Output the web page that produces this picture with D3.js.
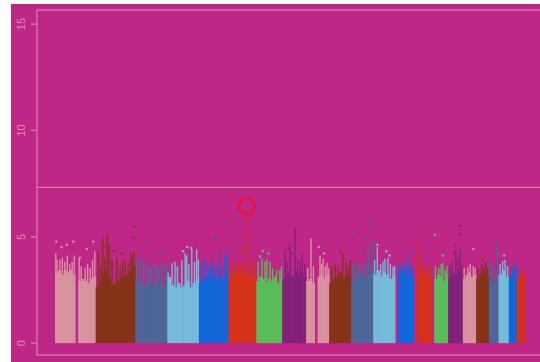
<!DOCTYPE html>
<html>
<head>
<meta charset="utf-8">
<script src="https://cdn.jsdelivr.net/npm/d3@7"></script>
<style>
  html, body { margin: 0; padding: 0; background: #ffffff; }
  svg { display: block; }
</style>
</head>
<body>
<svg id="chart" width="540" height="362"></svg>
<script>
// ---------- data ----------
const chromosomes = ["1","2","3","4","5","6","7","8","9","10","11","12","13","14","15","16","17","18","19","20","21","22"];
const chrLengthMb = [249.25, 243.2, 198.0, 191.15, 180.9, 171.1, 159.1, 146.4, 141.2, 135.5, 135.0, 133.85, 115.2, 107.3, 102.5, 90.35, 81.2, 78.1, 59.1, 63.0, 48.1, 51.3];
const chrColors = ["#d8939f", "#853418", "#4d6699", "#74bcd9", "#1167d9", "#d5331a", "#5bbd5a", "#84227b"];
const yTicks = [0, 5, 10, 15];
const threshold = 7.3;

// dense band: top of the solid mass of points, in equal bins along each chromosome (-log10 p)
const baseLevels = [
  [3.3, 3.4, 3.2, 3.4, 3.3, 3.4, 3.2, null, 2.9, 3.0, 2.9, 2.8, 3.0, 3.1],
  [2.6, 2.8, 3.2, 3.4, 3.0, 2.7, 2.8, 2.9, 3.1, 3.0, 3.2, 3.4, 3.6],
  [3.0, 2.8, 2.6, 2.7, 2.9, 2.6, 2.8, 2.7, 2.9, 2.6, 2.8],
  [3.1, 2.7, 2.6, 2.8, 2.6, 2.7, 2.9, 2.6, 2.8, 3.0],
  [2.8, 3.0, 3.1, 3.3, 3.0, 3.2, 2.9, 3.1, 3.0, 3.3],
  [3.0, 3.3, 3.4, 3.2, 3.5, 3.3, 3.1, 3.2, 3.0],
  [2.9, 3.1, 3.0, 2.8, 3.0, 2.9, 3.1, 2.8, 3.0],
  [3.0, 3.2, 3.3, 3.1, 3.4, 3.2, 3.3, 3.1],
  [2.9, 3.0, 2.8, null, 3.1, 3.2, 3.0, 3.2],
  [2.8, 3.0, 3.1, 3.3, 3.0, 3.2, 3.0],
  [2.9, 3.2, 3.1, 3.3, 3.0, 3.2, 3.4],
  [3.2, 3.4, 3.1, 3.3, 3.2, 3.0, 3.1],
  [null, 3.3, 3.5, 3.2, 3.4, 3.1],
  [null, 3.4, 3.2, 3.3, 3.1, 3.2],
  [null, 3.0, 3.2, 3.1, 2.9, 3.2],
  [3.1, 3.3, 3.2, 3.4, 3.2],
  [3.0, 3.2, 3.3, 3.1, 3.2],
  [3.0, 3.2, 3.3, 3.1],
  [3.0, 2.8, 2.9],
  [3.2, 3.4, 3.1],
  [3.1, 3.3, 3.4],
  [3.0, 3.1, 3.2]
];

// thin columns of points rising above the band: [chromosome, position Mb, -log10 p]
const spikes = [
  [1,5,4.2],[1,12,3.9],[1,30,3.9],[1,45,4.0],[1,60,3.8],[1,75,4.1],[1,90,3.7],[1,105,3.8],[1,118,4.1],[1,148,4.0],[1,160,3.6],[1,185,3.5],[1,200,3.7],[1,215,3.5],[1,230,3.9],[1,244,4.3],
  [2,16,4.3],[2,30,3.6],[2,42,4.9],[2,55,4.0],[2,71,5.1],[2,83,4.6],[2,100,3.9],[2,129,4.0],[2,150,3.6],[2,165,3.8],[2,180,3.9],[2,200,3.8],[2,215,4.2],[2,226,4.1],[2,236,4.3],
  [3,10,4.0],[3,29,3.95],[3,49,3.9],[3,70,3.8],[3,85,3.6],[3,100,3.55],[3,115,3.7],[3,131,3.7],[3,147,3.5],[3,162,3.85],[3,182,3.6],[3,195,3.8],
  [4,3,3.3],[4,27,3.73],[4,45,3.8],[4,60,3.6],[4,87,3.87],[4,107,4.2],[4,117,4.1],[4,130,3.7],[4,148,4.4],[4,165,3.8],[4,178,4.4],[4,188,3.9],
  [5,18,3.8],[5,38,3.95],[5,58,3.55],[5,70,3.7],[5,83,3.85],[5,99,3.5],[5,120,3.95],[5,140,3.6],[5,160,4.1],[5,173,4.1],
  [6,10,3.6],[6,31,3.96],[6,51,3.8],[6,72,3.9],[6,92,3.8],[6,113,4.9],[6,133,3.7],[6,153,4.0],[6,165,3.6],
  [7,12,3.8],[7,35,3.96],[7,53,3.8],[7,65,3.9],[7,84,3.8],[7,100,3.5],[7,125,3.4],[7,145,3.4],[7,155,3.6],
  [8,17,4.4],[8,30,3.8],[8,48,4.6],[8,78,5.38],[8,95,3.9],[8,110,3.8],[8,122,4.2],[8,138,3.7],
  [9,10,3.5],[9,30,4.9],[9,45,3.6],[9,85,4.1],[9,95,3.7],[9,104,3.95],[9,118,3.6],[9,128,3.75],[9,138,3.5],
  [10,15,3.6],[10,36,3.7],[10,55,3.5],[10,83,4.2],[10,104,3.75],[10,120,3.6],[10,130,3.9],
  [11,10,3.7],[11,23,3.8],[11,38,3.6],[11,53,3.7],[11,75,3.6],[11,90,3.9],[11,105,4.6],[11,118,3.8],[11,131,4.8],
  [12,8,3.9],[12,25,4.5],[12,45,3.7],[12,60,3.8],[12,72,3.95],[12,90,4.0],[12,105,3.7],[12,121,3.55],[12,130,3.6],
  [13,22,3.7],[13,40,3.8],[13,58,3.6],[13,73,4.0],[13,90,3.7],[13,105,3.6],
  [14,22,4.0],[14,27,4.6],[14,45,3.7],[14,60,3.6],[14,80,3.5],[14,95,3.7],
  [15,25,3.6],[15,45,3.5],[15,60,3.7],[15,71,3.75],[15,85,3.4],[15,95,3.6],
  [16,10,3.6],[16,25,3.8],[16,47,4.4],[16,60,3.9],[16,73,4.4],[16,85,3.7],
  [17,8,3.5],[17,31,3.55],[17,45,3.7],[17,64,3.6],[17,75,3.5],
  [18,10,3.5],[18,34,3.7],[18,46,3.6],[18,60,3.8],[18,70,3.5],
  [19,5,3.9],[19,20,3.6],[19,35,3.4],[19,53,4.75],
  [20,10,3.7],[20,25,3.85],[20,40,3.9],[20,55,3.6],
  [21,20,3.6],[21,35,3.7],[21,45,3.5],
  [22,25,3.5],[22,40,3.4]
];

// isolated points: [chromosome, position Mb, -log10 p]
const hits = [
  [1,8,4.75],[1,40,4.5],[1,72,4.6],[1,112,4.75],[1,153,4.0],[1,195,4.4],[1,235,4.75],
  [2,237,5.45],[2,234,4.94],[2,48,4.6],[2,110,4.3],[2,160,4.2],
  [3,66,4.7],[3,15,4.3],[3,120,4.1],[3,160,4.3],
  [4,120,4.5],[4,145,4.45],[4,95,4.3],
  [5,99,4.9],[5,130,4.2],[5,176,4.4],
  [6,31,5.6],[6,113,5.9],[6,113,5.7],[6,113,5.3],[6,113,5.1],[6,153,4.43],[6,80,4.3],[6,95,4.45],
  [7,22,4.05],[7,40,4.3],[7,75,4.2],
  [8,38,4.43],[8,60,4.2],
  [9,78,4.5],[9,110,4.2],
  [10,70,4.3],
  [11,12,5.13],[11,105,5.6],[11,131,5.76],[11,131,5.3],[11,100,4.9],[11,60,4.2],
  [12,25,4.6],[12,80,4.3],[12,100,4.1],
  [13,85,4.2],
  [14,27,5.2],[14,27,4.65],[14,55,4.0],
  [15,22,5.06],[15,70,4.1],
  [16,73,5.5],[16,73,5.1],[16,47,4.6],[16,35,4.2],
  [17,64,4.4],
  [18,40,3.9],
  [19,50,4.2],
  [20,35,4.1]
];

// top hit marked with a circle
const highlighted = [6, 113, 6.31];

// ---------- drawing ----------
const svg = d3.select("#chart");
const W = 540, H = 362;
const bg = "#be2687";
const frameColor = "#d977b0";
const labelColor = "#e08cbf";

svg.append("rect").attr("x", 11).attr("y", 4).attr("width", W - 11).attr("height", H - 4).attr("fill", bg);

const offsets = [];
let acc = 0;
chrLengthMb.forEach(l => { offsets.push(acc); acc += l; });
const totalMb = acc;

const x = d3.scaleLinear().domain([0, totalMb]).range([55, 525]);
const y = d3.scaleLinear().domain([-0.58, 15.64]).range([355, 10]);
const gx = (c, p) => x(offsets[c - 1] + p);

const plot = svg.append("g");

chromosomes.forEach((name, i) => {
  const color = chrColors[i % chrColors.length];
  const len = chrLengthMb[i];
  const levels = baseLevels[i];
  const n = levels.length;
  const g = plot.append("g").attr("class", "chr-" + name);
  g.selectAll("rect.band")
    .data(levels.map((v, k) => ({ v, k })).filter(d => d.v !== null))
    .enter().append("rect")
    .attr("class", "band")
    .attr("x", d => x(offsets[i] + d.k * len / n))
    .attr("width", d => x(offsets[i] + (d.k + 1) * len / n) - x(offsets[i] + d.k * len / n) + 0.3)
    .attr("y", d => y(d.v))
    .attr("height", d => y(0) - y(d.v) + 0.5)
    .attr("fill", color);
  g.selectAll("rect.spike")
    .data(spikes.filter(s => s[0] === i + 1))
    .enter().append("rect")
    .attr("class", "spike")
    .attr("x", d => gx(d[0], d[1]) - 0.7)
    .attr("width", 1.4)
    .attr("y", d => y(d[2]))
    .attr("height", d => y(0) - y(d[2]))
    .attr("fill", color);
  g.selectAll("circle.hit")
    .data(hits.filter(h => h[0] === i + 1).concat(highlighted[0] === i + 1 ? [highlighted] : []))
    .enter().append("circle")
    .attr("class", "hit")
    .attr("cx", d => gx(d[0], d[1]))
    .attr("cy", d => y(d[2]))
    .attr("r", 1.2)
    .attr("fill", color);
});

// highlight circle
svg.append("circle")
  .attr("cx", gx(highlighted[0], highlighted[1]))
  .attr("cy", y(highlighted[2]) - 2.3)
  .attr("r", 8)
  .attr("fill", "none")
  .attr("stroke", "#f2102c")
  .attr("stroke-width", 2.2);

// frame
svg.append("rect")
  .attr("x", 37).attr("y", 10)
  .attr("width", 520).attr("height", 345)
  .attr("fill", "none")
  .attr("stroke", frameColor)
  .attr("stroke-width", 1.3);

// genome-wide significance line
svg.append("line")
  .attr("x1", 37).attr("x2", W)
  .attr("y1", y(threshold)).attr("y2", y(threshold))
  .attr("stroke", frameColor)
  .attr("stroke-width", 1.3);

// y axis
const yAxis = d3.axisLeft(y).tickValues(yTicks).tickSize(6).tickPadding(0).tickFormat(d3.format("d"));
const ax = svg.append("g").attr("transform", "translate(37,0)").call(yAxis);
ax.select(".domain").remove();
ax.selectAll(".tick line").attr("stroke", frameColor).attr("stroke-width", 1.3);
ax.selectAll(".tick text")
  .attr("x", 0).attr("dy", 0)
  .attr("text-anchor", "middle")
  .attr("transform", "translate(-12,0) rotate(-90)")
  .attr("fill", labelColor)
  .style("font-family", "'Liberation Sans', Arial, sans-serif")
  .style("font-size", "11px");
</script>
</body>
</html>
